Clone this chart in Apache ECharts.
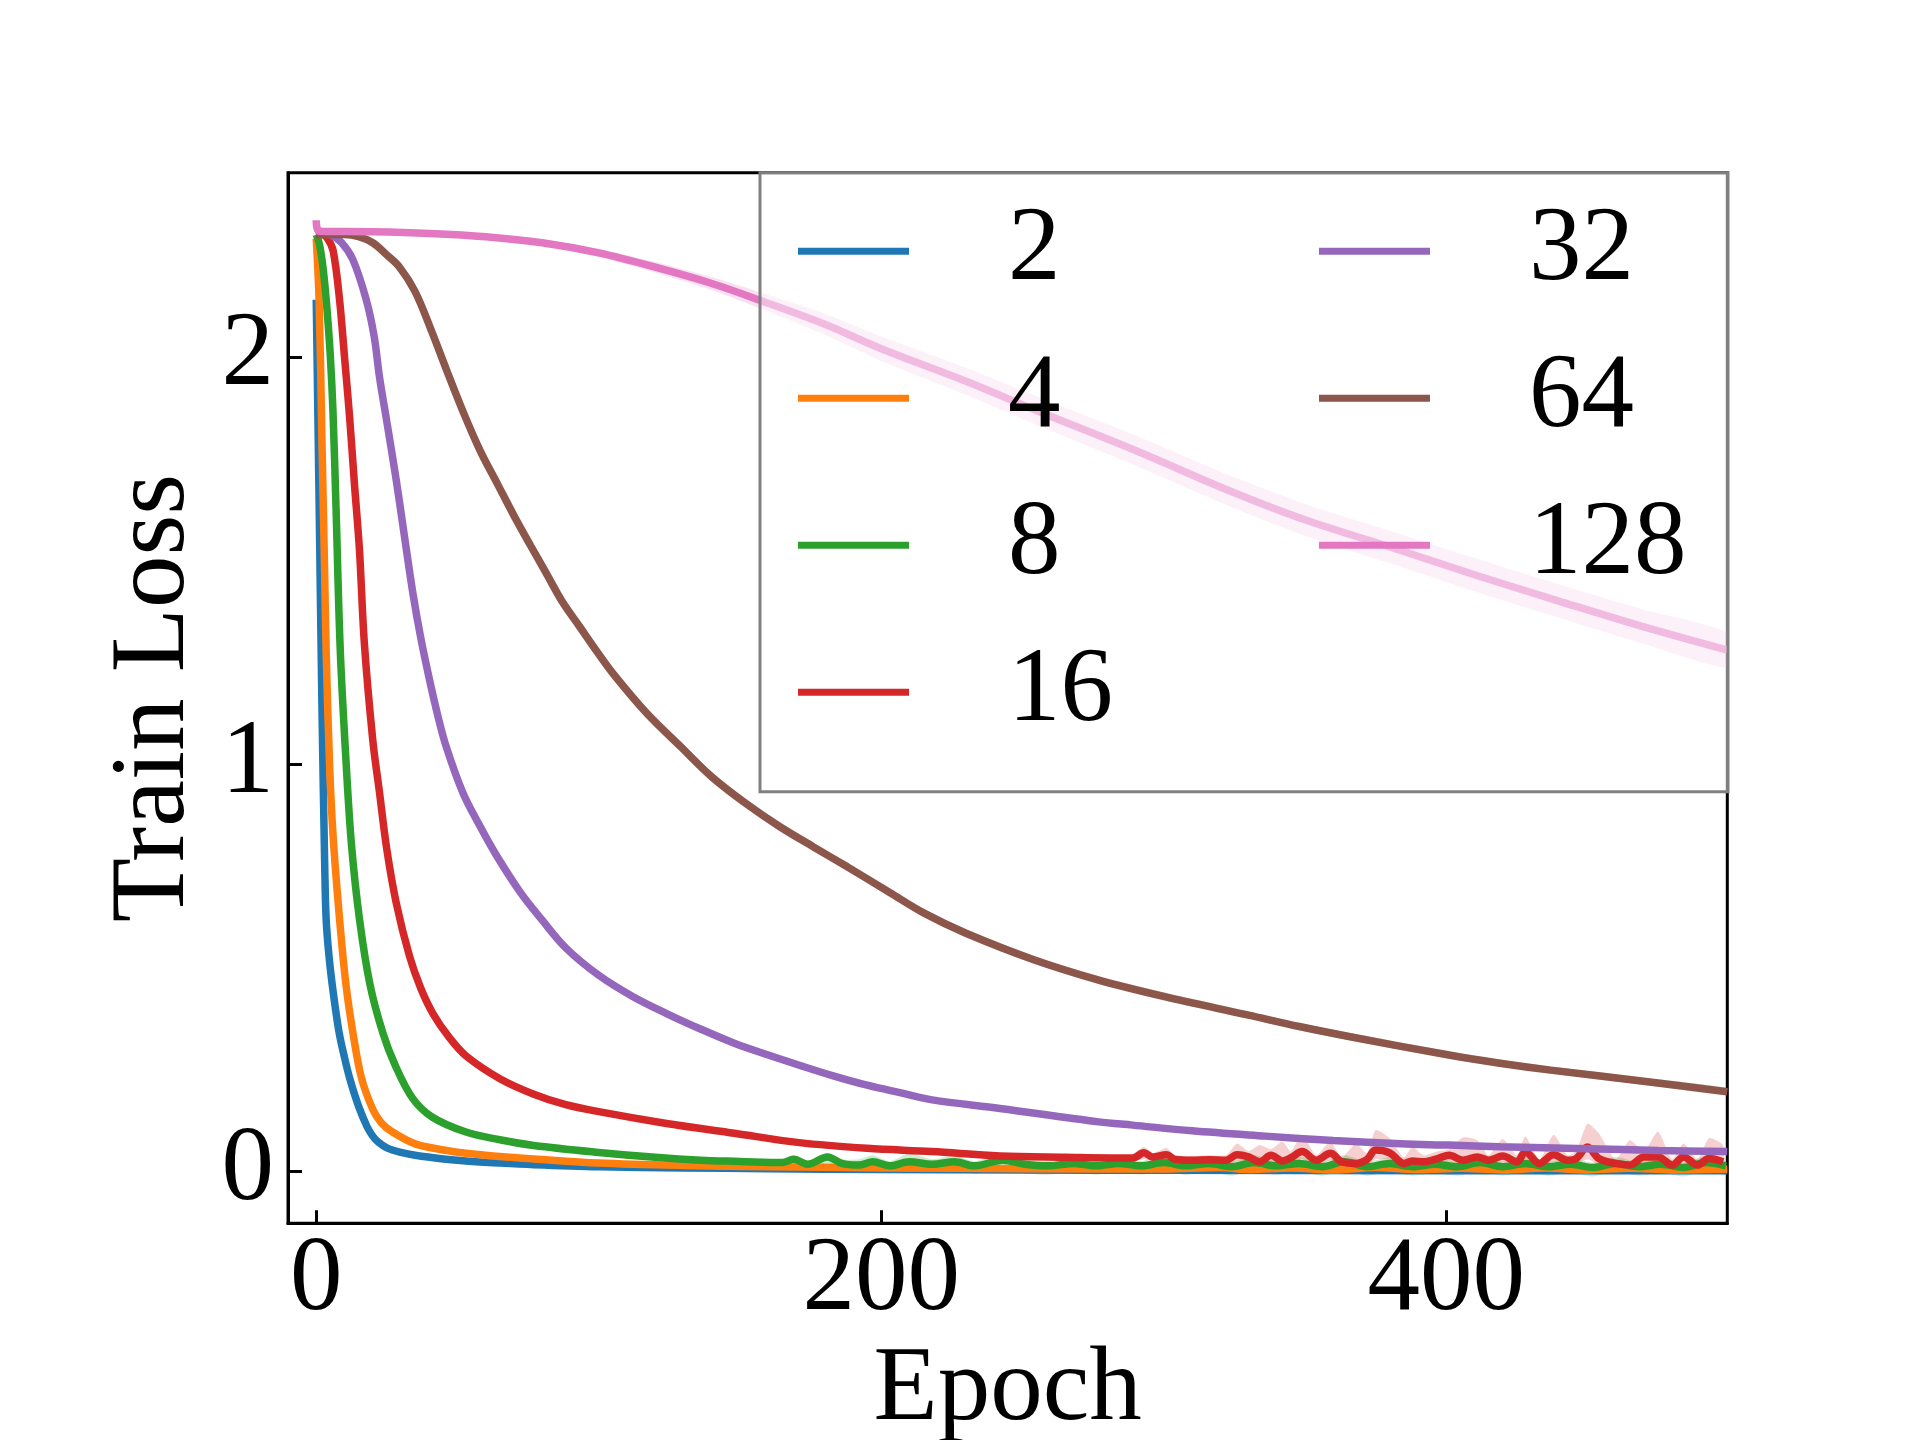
<!DOCTYPE html>
<html><head><meta charset="utf-8">
<script src="https://cdn.jsdelivr.net/npm/echarts@6/dist/echarts.min.js"></script>
<style>html,body{margin:0;padding:0;background:#fff}#c{width:1920px;height:1440px}</style>
</head><body><div id="c"></div>
<script>
const seriesNames = ['2','4','8','16','32','64','128'];
const colors = ['#1f77b4','#ff7f0e','#2ca02c','#d62728','#9467bd','#8c564b','#e377c2'];
const xTicks = [0, 200, 400];
const yTicks = [0, 1, 2];

const blueEpoch = [0,1,2,3,3.5,4.5,6,8,10,12,15,18,20,22,25,30,35,45,53,65,77,100,130,160,200,250,300,400,499.5];
const blueLoss  = [2.14,1.65,1.15,0.75,0.62,0.53,0.44,0.345,0.28,0.225,0.16,0.11,0.087,0.072,0.058,0.047,0.040,0.031,0.026,0.021,0.017,0.012,0.009,0.007,0.005,0.004,0.003,0.002,0.002];

const orangeEpoch = [0,1,2,3,3.5,4.7,6,8.25,10.5,13,16,20,23,27,35,45,53,65,77,100,130,160,200,250,300,320,330,345,360,375,390,405,420,435,450,465,480,499.5];
const orangeLoss  = [2.29,2.14,1.8,1.46,1.28,1.0,0.82,0.62,0.46,0.34,0.23,0.153,0.12,0.097,0.068,0.053,0.045,0.037,0.031,0.021,0.015,0.012,0.009,0.007,0.006,0.010,0.005,0.009,0.004,0.010,0.005,0.008,0.004,0.009,0.004,0.008,0.004,0.006];

const greenHeadEpoch = [0,1,2,3,4,5,5.9,7,8.5,10.6,12.5,15.3,19,23.6,28,34,41,53,65,77,100,120,136,150];
const greenHeadLoss  = [2.30,2.28,2.24,2.18,2.10,2.00,1.87,1.63,1.28,1.0,0.80,0.62,0.46,0.34,0.26,0.181,0.134,0.097,0.078,0.064,0.047,0.035,0.028,0.025];
const greenTailEpoch = [165,169,174,181,186,192,197,203,210,218,226,233,243,251,259,268,276,284,292,300,308,316,324,332,340,348,356,364,372,380,388,396,404,412,420,428,436,444,452,460,468,476,484,492,499];
const greenTailLoss  = [0.022,0.030,0.018,0.036,0.020,0.016,0.024,0.014,0.024,0.018,0.024,0.014,0.028,0.018,0.014,0.020,0.014,0.020,0.014,0.022,0.014,0.020,0.012,0.022,0.014,0.020,0.012,0.024,0.012,0.020,0.012,0.018,0.012,0.022,0.012,0.020,0.012,0.018,0.010,0.020,0.012,0.018,0.010,0.022,0.014];
const greenTailHigh  = [0.026,0.040,0.026,0.045,0.030,0.030,0.040,0.025,0.045,0.030,0.040,0.025,0.045,0.030,0.026,0.040,0.026,0.036,0.026,0.040,0.026,0.036,0.024,0.040,0.026,0.036,0.024,0.040,0.024,0.036,0.024,0.034,0.024,0.040,0.024,0.036,0.024,0.034,0.022,0.036,0.024,0.034,0.022,0.038,0.026];
const greenTailLow   = [0.018,0.016,0.008,0.020,0.004,0.000,0.006,-0.004,0.006,-0.002,0.006,-0.006,0.008,-0.004,-0.008,0.000,-0.008,0.000,-0.008,0.002,-0.008,0.000,-0.010,0.002,-0.008,0.000,-0.010,0.004,-0.010,0.000,-0.010,-0.002,-0.010,0.002,-0.010,0.000,-0.010,-0.002,-0.012,0.000,-0.010,-0.002,-0.012,0.002,-0.008];

const redHeadEpoch = [0,2,4,6,8.25,10,11.8,13.5,15.3,17,20,22.4,25,28.3,33,37,41.3,47,53,65,77,88,100,124,148,171,195,218,242,265];
const redHeadLoss  = [2.30,2.30,2.29,2.26,2.14,2.0,1.853,1.69,1.526,1.30,1.06,0.93,0.79,0.66,0.529,0.45,0.388,0.33,0.284,0.228,0.19,0.165,0.147,0.118,0.094,0.071,0.057,0.049,0.038,0.035];
const redTailEpoch = [289,293,296,301,304,310,316,322,326,330,334,338,342,345,349,354,359,363,368,372,375,380,385,388,392,397,401,406,411,415,420,425,428,433,438,443,446,450,454,460,465,470,475,480,484,489,493,498];
const redTailLoss  = [0.033,0.046,0.036,0.041,0.030,0.028,0.029,0.028,0.041,0.036,0.024,0.040,0.026,0.034,0.049,0.028,0.045,0.024,0.020,0.030,0.053,0.046,0.020,0.026,0.024,0.032,0.040,0.028,0.036,0.028,0.038,0.024,0.048,0.020,0.041,0.028,0.032,0.060,0.032,0.020,0.016,0.036,0.036,0.016,0.036,0.016,0.032,0.024];
const redTailHigh  = [0.040,0.060,0.045,0.058,0.040,0.038,0.040,0.040,0.069,0.050,0.065,0.055,0.073,0.050,0.090,0.040,0.073,0.035,0.069,0.045,0.102,0.082,0.035,0.061,0.040,0.050,0.055,0.084,0.077,0.040,0.080,0.040,0.086,0.030,0.090,0.040,0.050,0.118,0.094,0.030,0.077,0.050,0.098,0.030,0.069,0.030,0.082,0.065];
const redTailLow   = [0.027,0.030,0.026,0.028,0.020,0.018,0.019,0.018,0.025,0.024,0.012,0.024,0.012,0.022,0.030,0.016,0.028,0.010,0.006,0.016,0.030,0.028,0.006,0.012,0.010,0.018,0.024,0.012,0.020,0.014,0.022,0.008,0.030,0.006,0.024,0.012,0.018,0.030,0.016,0.004,-0.006,0.020,0.020,0.000,0.020,0.000,0.016,0.008];

const purpleEpoch = [0,5,9,13,17.7,20.5,22.4,25,28.3,31,34.2,37,40.1,43,46,51.9,57.8,63.7,72,80,88.5,100,112,124,136,148,160,171,183,195,207,218,242,277,289,310,336,360,384,401,419,450,475,499.5];
const purpleLoss  = [2.31,2.30,2.28,2.238,2.14,2.05,1.95,1.84,1.698,1.57,1.42,1.31,1.207,1.12,1.043,0.93,0.85,0.777,0.688,0.617,0.548,0.482,0.43,0.388,0.35,0.315,0.286,0.261,0.235,0.212,0.193,0.176,0.155,0.122,0.114,0.10,0.087,0.076,0.068,0.065,0.061,0.056,0.052,0.049];

const brownEpoch  = [0,10,15,20,25,29.5,35,41,46,52,58,64,70,76,81.4,87,93.2,99,105,117,129,140,152,164,176,188,203,215,230,254,277,300,330,348,366,401,419,437,472,499.5];
const brownLoss   = [2.30,2.30,2.295,2.28,2.25,2.22,2.16,2.06,1.97,1.865,1.77,1.69,1.61,1.535,1.469,1.40,1.338,1.28,1.223,1.125,1.043,0.969,0.904,0.847,0.797,0.748,0.685,0.635,0.585,0.52,0.47,0.43,0.384,0.356,0.331,0.286,0.266,0.249,0.220,0.196];
const brownSpread = [0.003,0.003,0.004,0.006,0.010,0.014,0.018,0.020,0.020,0.020,0.020,0.020,0.019,0.018,0.018,0.017,0.016,0.016,0.015,0.014,0.013,0.012,0.012,0.011,0.011,0.011,0.010,0.010,0.010,0.010,0.010,0.010,0.009,0.009,0.009,0.009,0.009,0.009,0.009,0.009];

const pinkEpoch  = [0,1,20,40,60,80,100,120,140,157,180,200,230,256,290,323,350,382,410,441,470,499.5];
const pinkLoss   = [2.335,2.308,2.307,2.303,2.295,2.28,2.255,2.22,2.18,2.139,2.08,2.02,1.94,1.865,1.77,1.672,1.60,1.529,1.465,1.398,1.337,1.28];
const pinkSpread = [0.002,0.003,0.003,0.004,0.005,0.007,0.010,0.013,0.016,0.020,0.026,0.030,0.033,0.035,0.037,0.038,0.039,0.040,0.041,0.041,0.042,0.042];

const FONT = 'Liberation Serif';
const zip = (a, b) => a.map((v, i) => [v, b[i]]);

function lineSeries(idx, ep, ls) {
  return {
    name: seriesNames[idx], type: 'line', data: zip(ep, ls),
    symbol: 'none', showSymbol: false, smooth: 0.35,
    lineStyle: { color: colors[idx], width: 7.5 }, itemStyle: { color: colors[idx] },
    silent: true, z: 3
  };
}
// shaded spread band: a polygon through the upper values and back along the lower values,
// placed with the chart's own scales via api.coord
function bandSeries(idx, ep, lo, hi) {
  return {
    name: 'band' + seriesNames[idx], type: 'custom', silent: true, z: 2,
    data: ep.map((x, i) => [x, lo[i], hi[i]]),
    encode: { x: 0, y: [1, 2] },
    renderItem: function (params, api) {
      if (params.dataIndex !== 0) return null;
      const pts = [];
      for (let i = 0; i < ep.length; i++) pts.push(api.coord([ep[i], hi[i]]));
      for (let i = ep.length - 1; i >= 0; i--) pts.push(api.coord([ep[i], lo[i]]));
      const cs = params.coordSys;
      return {
        type: 'polygon', shape: { points: pts, smooth: 0.2 },
        style: { fill: colors[idx], opacity: 0.22 },
        clipPath: { type: 'rect', shape: { x: cs.x, y: cs.y, width: cs.width, height: cs.height } }
      };
    }
  };
}

const series = [];
series.push(lineSeries(0, blueEpoch, blueLoss));
series.push(lineSeries(1, orangeEpoch, orangeLoss));
series.push(bandSeries(2, greenTailEpoch, greenTailLow, greenTailHigh));
series.push(lineSeries(2, greenHeadEpoch.concat(greenTailEpoch), greenHeadLoss.concat(greenTailLoss)));
series.push(bandSeries(3, redTailEpoch, redTailLow, redTailHigh));
series.push(lineSeries(3, redHeadEpoch.concat(redTailEpoch), redHeadLoss.concat(redTailLoss)));
series.push(lineSeries(4, purpleEpoch, purpleLoss));
series.push(bandSeries(5, brownEpoch, brownLoss.map((v, i) => v - brownSpread[i]), brownLoss.map((v, i) => v + brownSpread[i])));
series.push(lineSeries(5, brownEpoch, brownLoss));
series.push(bandSeries(6, pinkEpoch, pinkLoss.map((v, i) => v - pinkSpread[i]), pinkLoss.map((v, i) => v + pinkSpread[i])));
series.push(lineSeries(6, pinkEpoch, pinkLoss));

const legendCommon = {
  orient: 'vertical', icon: 'rect', itemWidth: 111, itemHeight: 7, itemGap: 42,
  selectedMode: false,
  textStyle: { fontFamily: FONT, fontSize: 105, lineHeight: 105, color: '#000', padding: [0, 0, 0, 94] }
};

const chart = echarts.init(document.getElementById('c'), null, { renderer: 'canvas' });
chart.setOption({
  animation: false,
  backgroundColor: '#fff',
  grid: { left: 288, right: 192.7, top: 172.7, bottom: 216.7, show: true, borderColor: '#000', borderWidth: 3,
          containLabel: false, outerBoundsMode: 'none' },
  legend: [
    Object.assign({}, legendCommon, { data: seriesNames.slice(0, 4), left: 760, top: 172.7,
      padding: [26, 615, 47, 38], borderColor: '#808080', borderWidth: 3, borderRadius: 0,
      backgroundColor: 'rgba(255,255,255,0.5)' }),
    Object.assign({}, legendCommon, { data: seriesNames.slice(4), left: 1319, top: 198.7, padding: 0 })
  ],
  xAxis: {
    type: 'value', min: -10, max: 499.5,
    axisLine: { show: true, onZero: false, lineStyle: { color: '#000', width: 3 } },
    axisTick: { show: true, inside: true, length: 13, customValues: xTicks, lineStyle: { color: '#000', width: 3 } },
    axisLabel: { show: true, margin: 6, customValues: xTicks, fontFamily: FONT, fontSize: 105, color: '#000' },
    splitLine: { show: false },
    name: 'Epoch', nameLocation: 'middle', nameGap: 113,
    nameTextStyle: { fontFamily: FONT, fontSize: 105, color: '#000' }
  },
  yAxis: {
    type: 'value', min: -0.127, max: 2.452,
    axisLine: { show: true, onZero: false, lineStyle: { color: '#000', width: 3 } },
    axisTick: { show: true, inside: true, length: 14, customValues: yTicks, lineStyle: { color: '#000', width: 3 } },
    axisLabel: { show: true, margin: 14, customValues: yTicks, fontFamily: FONT, fontSize: 105, color: '#000' },
    splitLine: { show: false },
    name: 'Train Loss', nameLocation: 'middle', nameGap: 80, nameRotate: 90,
    nameTextStyle: { fontFamily: FONT, fontSize: 105, color: '#000' }
  },
  series: series
});
</script>
</body></html>
